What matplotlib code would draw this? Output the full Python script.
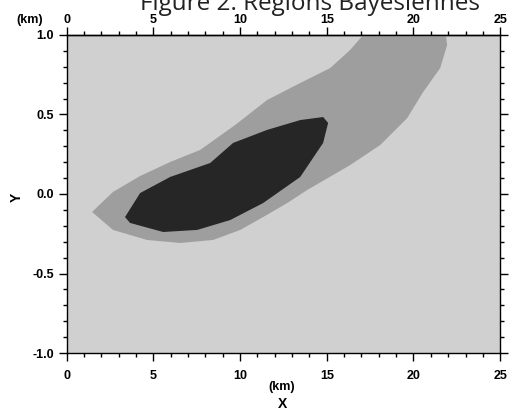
import matplotlib
matplotlib.use('Agg')
import matplotlib.pyplot as plt
from matplotlib.ticker import MultipleLocator, FormatStrFormatter

plt.rcParams['axes.unicode_minus'] = False

# region outlines (x in km, y in km)
outer_x = [1.47, 2.68, 4.24, 5.97, 7.70, 9.72, 11.56, 13.47, 15.20, 16.35, 17.10, 17.3,
           21.8, 21.94, 21.54, 20.56, 19.64, 18.08, 16.35, 13.87, 12.72, 11.33, 10.01,
           8.45, 6.55, 4.64, 2.68]
outer_y = [-0.113, 0.013, 0.113, 0.201, 0.277, 0.434, 0.591, 0.698, 0.792, 0.906, 1.0, 1.05,
           1.05, 0.937, 0.792, 0.642, 0.478, 0.308, 0.182, 0.025, -0.057, -0.145, -0.226,
           -0.289, -0.308, -0.289, -0.226]

inner_x = [3.37, 4.24, 5.97, 8.28, 9.60, 11.56, 13.47, 14.79, 15.08, 14.79, 13.47,
           11.33, 9.43, 7.53, 5.57, 3.66]
inner_y = [-0.145, 0.006, 0.107, 0.195, 0.321, 0.403, 0.465, 0.484, 0.447, 0.321, 0.107,
           -0.057, -0.164, -0.226, -0.239, -0.182]

x_limits = [0, 25]
y_limits = [-1.0, 1.0]

colors = ['#d0d0d0', '#9e9e9e', '#262626']

fig = plt.figure(figsize=(5.12, 4.19), dpi=100)
ax = fig.add_axes([0.130, 0.1575, 0.847, 0.759])
ax.set_facecolor(colors[0])

ax.fill(outer_x, outer_y, color=colors[1], lw=0)
ax.fill(inner_x, inner_y, color=colors[2], lw=0)

ax.set_xlim(x_limits)
ax.set_ylim(y_limits)

tick_font = {'family': 'Liberation Sans', 'weight': 'bold', 'size': 9}

ax.xaxis.set_major_locator(MultipleLocator(5))
ax.xaxis.set_minor_locator(MultipleLocator(1))
ax.yaxis.set_major_locator(MultipleLocator(0.5))
ax.yaxis.set_minor_locator(MultipleLocator(0.1))
ax.yaxis.set_major_formatter(FormatStrFormatter('%.1f'))

ax.tick_params(which='both', direction='out', top=False, right=True,
               labelright=False, width=1, color='black')
ax.tick_params(which='major', length=6)
ax.tick_params(which='minor', length=3)
ax.tick_params(axis='x', which='major', pad=6)
ax.tick_params(axis='y', which='major', pad=3)

# top axis with its own label spacing
top = ax.secondary_xaxis('top')
top.xaxis.set_major_locator(MultipleLocator(5))
top.xaxis.set_minor_locator(MultipleLocator(1))
top.tick_params(which='both', direction='out', width=1)
top.tick_params(which='major', length=6, pad=0.5)
top.tick_params(which='minor', length=3)

for lab in ax.get_xticklabels() + ax.get_yticklabels() + top.get_xticklabels():
    lab.set_fontproperties(tick_font)

for sp in ax.spines.values():
    sp.set_linewidth(1.0)
top.spines['top'].set_linewidth(1.0)

fig.text(0.605, 0.975, 'Figure 2: Regions Bayesiennes', ha='center', va='baseline',
         fontsize=17.5, family='Open Sans', color='#222222')
fig.text(0.058, 0.953, '(km)', ha='center', va='center', **tick_font)
fig.text(0.551, 0.076, '(km)', ha='center', va='center', **tick_font)
fig.text(0.551, 0.036, 'X', ha='center', va='center', family='Liberation Sans',
         weight='bold', size=10)
fig.text(0.033, 0.53, 'Y', ha='center', va='center', rotation=90,
         family='Liberation Sans', weight='bold', size=10)

plt.savefig('out.png', dpi=100)
plt.close()
